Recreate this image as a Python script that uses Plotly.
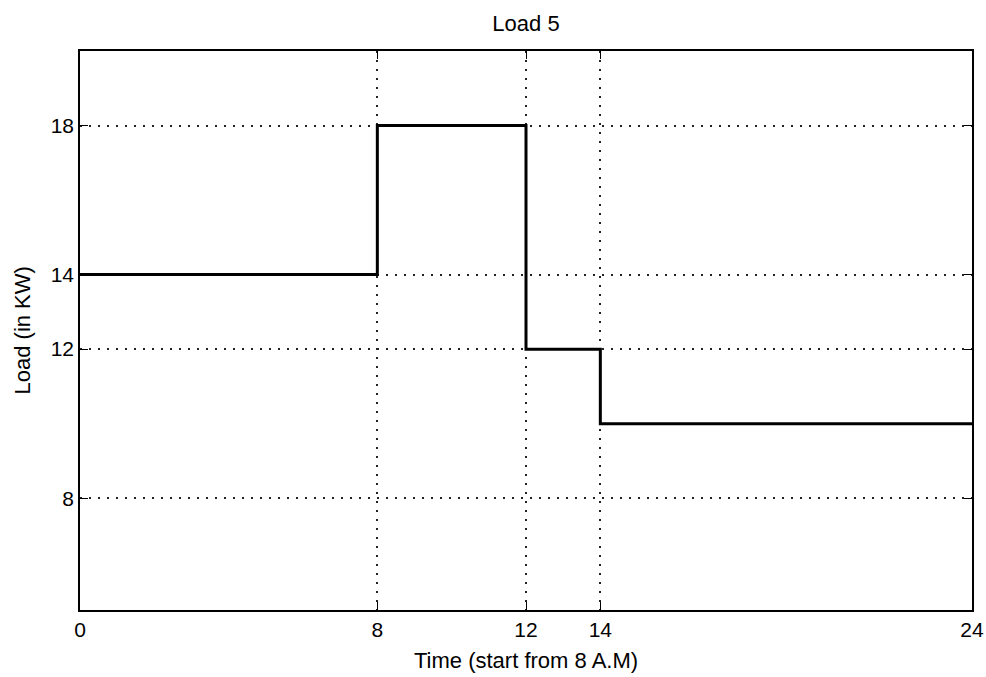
import plotly.graph_objects as go

# Data
time_hours = [0, 8, 12, 14, 24]
load_kw = [14, 18, 12, 10, 10]
x_ticks = [0, 8, 12, 14, 24]
y_ticks = [8, 12, 14, 18]

FONT = "Liberation Sans, Arial, sans-serif"

fig = go.Figure()
fig.add_trace(go.Scatter(
    x=time_hours, y=load_kw, mode="lines", line_shape="hv",
    line=dict(color="black", width=3), showlegend=False, hoverinfo="skip"))

axis_common = dict(
    showline=True, linecolor="black", linewidth=1.5, mirror="ticks",
    ticks="inside", ticklen=8, tickwidth=1, tickcolor="black",
    showgrid=True, gridcolor="#222222", gridwidth=2, griddash="2px,7px",
    zeroline=False, automargin=False,
    tickfont=dict(family=FONT, size=21, color="black"),
)

fig.update_xaxes(range=[0, 24], tickvals=x_ticks, ticktext=[str(v) for v in x_ticks], **axis_common)
fig.update_yaxes(range=[5, 20], tickvals=y_ticks, ticktext=[str(v) for v in y_ticks], **axis_common)

W, H = 986, 677
L, R, T, B = 80, 14, 51, 67
plot_h = H - T - B
plot_w = W - L - R
fig.update_layout(
    width=W, height=H,
    margin=dict(l=L, r=R, t=T, b=B),
    plot_bgcolor="white", paper_bgcolor="white",
    title=dict(text="Load 5", x=(L + plot_w / 2) / W, xanchor="center",
               y=(H - 23) / H, yanchor="middle",
               font=dict(family=FONT, size=22, color="black")),
    annotations=[
        dict(text="Time (start from 8 A.M)", xref="paper", yref="paper",
             x=0.5, y=-50 / plot_h, xanchor="center", yanchor="middle",
             showarrow=False, font=dict(family=FONT, size=22, color="black")),
        dict(text="Load (in KW)", xref="paper", yref="paper",
             x=-58 / plot_w, y=0.5, xanchor="center", yanchor="middle",
             textangle=-90, showarrow=False,
             font=dict(family=FONT, size=22, color="black")),
    ],
)

fig.write_html(
    "out.html",
    config={"displayModeBar": False},
    post_script="document.body.style.margin='0';document.body.style.overflow='hidden';",
)
